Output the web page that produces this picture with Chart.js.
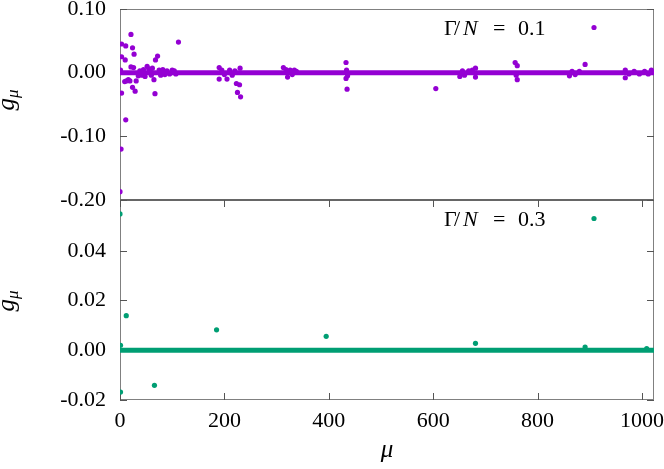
<!DOCTYPE html>
<html>
<head>
<meta charset="utf-8">
<script src="https://cdn.jsdelivr.net/npm/chart.js@4.4.1/dist/chart.umd.min.js"></script>
<style>
    html, body { margin: 0; padding: 0; background: #fff; }
    #wrap { width: 664px; height: 469px; }
</style>
</head>
<body>
<div id="wrap"><canvas id="chart"></canvas></div>
<script>
// Gamma/N = 0.1 : the points that stand off the zero band
const muTop = [0, 2, 11, 3, 21, 3, 11, 24, 112, 27, 3, 10, 72, 68, 67, 1, 21, 26, 16, 12, 9, 19, 24, 29, 31, 52, 65,
    35, 38, 42, 45, 48, 55, 58, 60, 62, 75, 78, 82, 86, 90, 95, 100, 104, 107,
    190, 190, 195, 200, 205, 210, 215, 220, 223, 225, 229, 230, 231,
    313, 318, 321, 326, 330, 334, 338,
    433, 433, 434, 435, 436, 605,
    651, 656, 660, 668, 675, 681, 681,
    757, 761, 761, 759,
    861, 866, 872, 880, 891,
    968, 968, 975, 985, 995, 1005, 1012, 1018, 1022];
const gTop = [-0.187, -0.120, -0.074, -0.032, 0.060, 0.045, 0.042, 0.039, 0.048, 0.029, 0.025, 0.020, 0.026, 0.020, -0.033, 0.004, 0.009, 0.008, -0.011, -0.013, -0.014, -0.013, -0.023, -0.029, -0.013, 0.010, -0.011,
    -0.005, 0.003, -0.004, 0.005, -0.006, 0.006, 0.003, -0.004, 0.007, 0.004, -0.004, 0.005, -0.003, 0.003, -0.002, 0.004, 0.003, -0.002,
    0.008, -0.010, 0.004, -0.003, -0.010, 0.004, -0.004, 0.003, -0.017, -0.031, -0.019, 0.007, -0.038,
    0.008, 0.005, -0.007, 0.004, -0.003, 0.004, 0.002,
    0.016, -0.009, 0.004, -0.026, -0.005, -0.025,
    -0.006, 0.003, -0.004, 0.003, 0.004, 0.007, -0.007,
    0.016, 0.011, -0.011, -0.004,
    -0.005, 0.002, -0.003, 0.002, 0.013,
    -0.008, 0.004, -0.002, 0.002, -0.002, 0.002, -0.002, 0.004, 0.001];

// Gamma/N = 0.3
const muBot = [0, 1, 1, 12, 66, 185, 395, 681, 891, 1009];
const gBot = [0.0548, 0.002, -0.0168, 0.0139, -0.0141, 0.0082, 0.0056, 0.0028, 0.0013, 0.0007];

// all other mu sit on zero and merge into a thick band
const bandMu = [0, 1023];
const bandG = [0, 0];

const xTicks = [0, 200, 400, 600, 800, 1000];
const topTicks = [-0.2, -0.1, 0, 0.1];
const botTicks = [-0.02, 0, 0.02, 0.04];
const xRange = [0, 1023];
const topRange = [-0.2, 0.1];
const botRange = [-0.02, 0.0604];

const PURPLE = '#9400d3';
const GREEN = '#009e73';
const SERIF = '"Liberation Serif", "DejaVu Serif", serif';

const pts = (xs, ys) => xs.map((x, i) => ({ x: x, y: ys[i] }));
const fmt = v => (Math.abs(v) < 1e-9 ? 0 : v).toFixed(2);

function yAxis(range, ticks, weight) {
    return {
        type: 'linear',
        position: 'left',
        stack: 'panels',
        stackWeight: weight,
        min: range[0],
        max: range[1],
        afterBuildTicks: s => { s.ticks = ticks.map(v => ({ value: v })); },
        afterFit: s => { s.width = 120; s.paddingTop = 0; s.paddingBottom = 0; },
        ticks: { callback: v => fmt(v), color: '#000', padding: 14, font: { family: SERIF, size: 22 } },
        grid: { display: false, drawTicks: false },
        border: { display: false }
    };
}

// frame, inward ticks, titles and keys, drawn like the gnuplot original
const framePlugin = {
    id: 'frame',
    beforeDatasetsDraw(chart) {
        const { ctx, chartArea: ca, scales } = chart;
        const { x, yTop, yBot } = scales;
        const L = ca.left, R = ca.right;
        ctx.save();
        ctx.strokeStyle = '#808080';
        ctx.lineWidth = 1;
        ctx.strokeRect(L + 0.5, yTop.top + 0.5, R - L - 1, yTop.bottom - yTop.top);
        ctx.strokeRect(L + 0.5, yBot.top, R - L - 1, yBot.bottom - yBot.top - 0.5);
        ctx.strokeStyle = '#666';
        ctx.lineWidth = 2;
        ctx.beginPath();
        ctx.moveTo(L, yBot.top);
        ctx.lineTo(R, yBot.top);
        ctx.stroke();

        ctx.strokeStyle = '#555';
        ctx.lineWidth = 1;
        const tl = 7;
        ctx.beginPath();
        topTicks.forEach(v => {
            const p = Math.round(yTop.getPixelForValue(v)) + 0.5;
            ctx.moveTo(L, p); ctx.lineTo(L + tl, p);
            ctx.moveTo(R, p); ctx.lineTo(R - tl, p);
        });
        botTicks.forEach(v => {
            const p = Math.round(yBot.getPixelForValue(v)) + 0.5;
            ctx.moveTo(L, p); ctx.lineTo(L + tl, p);
            ctx.moveTo(R, p); ctx.lineTo(R - tl, p);
        });
        xTicks.forEach(v => {
            const p = Math.round(x.getPixelForValue(v)) + 0.5;
            ctx.moveTo(p, yBot.bottom); ctx.lineTo(p, yBot.bottom - tl);
            ctx.moveTo(p, yBot.top); ctx.lineTo(p, yBot.top + tl);
        });
        ctx.stroke();
        ctx.restore();
    },
    afterDraw(chart) {
        const { ctx, chartArea: ca, scales } = chart;
        const { yTop, yBot } = scales;
        ctx.save();
        ctx.fillStyle = '#000';
        ctx.textBaseline = 'alphabetic';

        // y titles g_mu
        [[yTop, 100], [yBot, 301]].forEach(([s, cy]) => {
            ctx.save();
            ctx.translate(14, cy);
            ctx.rotate(-Math.PI / 2);
            ctx.font = 'italic 25px ' + SERIF;
            const gw = ctx.measureText('g').width;
            ctx.font = 'italic 17px ' + SERIF;
            const mw = ctx.measureText('μ').width;
            const x0 = -(gw + mw) / 2;
            ctx.font = 'italic 25px ' + SERIF;
            ctx.textAlign = 'left';
            ctx.fillText('g', x0, 0);
            ctx.font = 'italic 17px ' + SERIF;
            ctx.fillText('μ', x0 + gw, 4);
            ctx.restore();
        });

        // x title
        ctx.font = 'italic 25px ' + SERIF;
        ctx.textAlign = 'center';
        ctx.fillText('μ', (ca.left + ca.right) / 2, 457);

        // keys
        [[yTop, '0.1', PURPLE], [yBot, '0.3', GREEN]].forEach(([s, val, col]) => {
            const base = s.top + 25.5;
            const R = ca.right;
            ctx.textAlign = 'left';
            ctx.fillStyle = '#000';
            ctx.font = '22px ' + SERIF;
            ctx.fillText('Γ', R - 210, base);
            ctx.fillText('/', R - 200, base);
            ctx.fillText('=', R - 161, base);
            ctx.fillText(val, R - 136, base);
            ctx.font = 'italic 22px ' + SERIF;
            ctx.fillText('N', R - 191, base);
            ctx.fillStyle = col;
            ctx.beginPath();
            ctx.arc(R - 60, s.top + 18.5, 2.6, 0, Math.PI * 2);
            ctx.fill();
        });
        ctx.restore();
    }
};

const dot = col => ({ pointRadius: 2.6, pointBackgroundColor: col, pointBorderWidth: 0, showLine: false });
const band = col => ({ showLine: true, borderColor: col, borderWidth: 5, borderCapStyle: 'round', pointRadius: 0 });

new Chart(document.getElementById('chart'), {
    type: 'scatter',
    data: {
        datasets: [
            { label: 'band 0.1', data: pts(bandMu, bandG), yAxisID: 'yTop', ...band(PURPLE) },
            { label: 'Γ/N = 0.1', data: pts(muTop, gTop), yAxisID: 'yTop', ...dot(PURPLE) },
            { label: 'band 0.3', data: pts(bandMu, bandG), yAxisID: 'yBot', ...band(GREEN) },
            { label: 'Γ/N = 0.3', data: pts(muBot, gBot), yAxisID: 'yBot', ...dot(GREEN) }
        ]
    },
    options: {
        responsive: true,
        maintainAspectRatio: false,
        animation: false,
        layout: { padding: { top: 9, right: 10, left: 0, bottom: 0 } },
        plugins: { legend: { display: false }, tooltip: { enabled: false } },
        scales: {
            x: {
                type: 'linear',
                position: 'bottom',
                min: xRange[0],
                max: xRange[1],
                afterBuildTicks: s => { s.ticks = xTicks.map(v => ({ value: v })); },
                afterFit: s => { s.height = 69; s.paddingLeft = 0; s.paddingRight = 0; },
                ticks: { callback: v => String(v), color: '#000', padding: 8, maxRotation: 0, font: { family: SERIF, size: 22 } },
                grid: { display: false, drawTicks: false },
                border: { display: false }
            },
            yBot: yAxis(botRange, botTicks, 200),
            yTop: yAxis(topRange, topTicks, 191)
        }
    },
    plugins: [framePlugin]
});
</script>
</body>
</html>
